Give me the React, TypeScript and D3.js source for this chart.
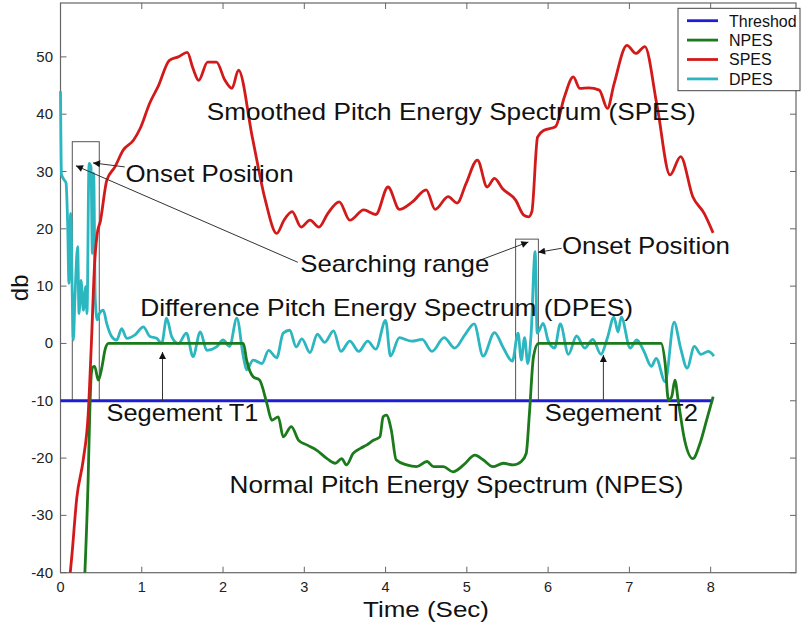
import * as d3 from "d3";
import React from "react";

// time (s) / level (db) pairs
const threshold: [number, number][] = [[0, -10], [8.03, -10]];

const npes: [number, number][] = [
  [0.3, -40], [0.34, -23.8], [0.36, -12.2], [0.38, -5.2], [0.4, -4.1], [0.42, -4.0], [0.465, -6.4],
  [0.51, -4.1], [0.55, -1], [0.59, 0], [2.25, 0], [2.29, -2.9], [2.37, -5.8], [2.45, -6.4], [2.54, -10.5],
  [2.6, -13.4], [2.68, -12.8], [2.74, -16.3], [2.84, -14.5], [2.93, -16.9], [3.03, -17.7], [3.15, -18.6],
  [3.28, -20.1], [3.38, -20.9], [3.46, -20.1], [3.52, -21.2], [3.6, -19.2], [3.69, -18.3], [3.77, -17.7],
  [3.85, -16.9], [3.93, -16.3], [3.97, -12.8], [4.01, -12.5], [4.07, -15.1], [4.13, -20.3], [4.26, -21.2],
  [4.38, -21.5], [4.51, -20.6], [4.59, -21.5], [4.71, -21.5], [4.83, -22.4], [4.96, -21.2], [5.1, -19.5],
  [5.2, -20.3], [5.32, -21.5], [5.45, -20.9], [5.57, -21.2], [5.67, -20.6], [5.73, -19.2], [5.77, -12.2],
  [5.82, -2.3], [5.88, 0], [7.39, 0], [7.44, -3.5], [7.48, -9.9], [7.52, -9.3], [7.56, -6.4], [7.6, -9.9],
  [7.68, -16.9], [7.78, -20.1], [7.87, -17.4], [7.95, -13.4], [8.03, -9.3],
];

const spes: [number, number][] = [
  [0.12, -40], [0.14, -37], [0.2, -27], [0.28, -20.3], [0.34, -12.5], [0.38, 0], [0.42, 14], [0.45, 19],
  [0.49, 21.3], [0.57, 28.5], [0.67, 30.8], [0.77, 33.7], [0.9, 35.5], [0.98, 37.5], [1.1, 42], [1.2, 44.8],
  [1.34, 49.4], [1.45, 50.0], [1.56, 50.8], [1.63, 48], [1.7, 45.9], [1.81, 49.1], [1.92, 49.1], [2.02, 46],
  [2.11, 44.5], [2.19, 47.7], [2.36, 36.0], [2.52, 25.0], [2.66, 19.2], [2.75, 21.5], [2.85, 23.0],
  [2.96, 20.3], [3.07, 21.5], [3.18, 20.3], [3.29, 22.7], [3.43, 24.7], [3.56, 21.5], [3.73, 23.3],
  [3.88, 22.5], [4.03, 27.3], [4.17, 23.4], [4.33, 24.7], [4.5, 26.8], [4.61, 23.4], [4.77, 25.6],
  [4.88, 24.5], [4.99, 27.9], [5.13, 32.0], [5.25, 27.3], [5.34, 28.8], [5.44, 27.0], [5.6, 25.0],
  [5.7, 22.4], [5.76, 22.1], [5.8, 23], [5.87, 36.0], [5.95, 37.2], [6.09, 37.8], [6.2, 43.0], [6.31, 46.5],
  [6.39, 44.5], [6.5, 44.6], [6.63, 44.2], [6.73, 41.0], [6.81, 45.2], [6.97, 52.0], [7.08, 50.6],
  [7.19, 51.8], [7.34, 41.5], [7.5, 29.4], [7.63, 32.6], [7.78, 25.6], [7.92, 22.7], [8.03, 19.3],
];

const dpes: [number, number][] = [
  [0, 44], [0.012, 29.5], [0.047, 28.5], [0.068, 28], [0.088, 20.9], [0.104, 10.5], [0.125, 22.7],
  [0.158, 0.6], [0.178, 8.1], [0.211, 16.9], [0.228, 5.2], [0.252, 11.0], [0.281, 5.8], [0.31, 9.9],
  [0.326, 5.2], [0.351, 31.4], [0.375, 30.8], [0.392, 15.7], [0.408, 29.7], [0.428, 7.6], [0.453, 4.1],
  [0.478, 5.2], [0.527, 5.8], [0.568, 3.5], [0.63, 1.2], [0.691, 0.6], [0.753, 2.6], [0.814, 0.9],
  [0.917, 1.5], [1.019, 2.9], [1.101, 1.2], [1.183, 0.9], [1.245, 0], [1.306, 4.4], [1.368, 1.2],
  [1.45, 0], [1.55, 1.8], [1.63, -2.3], [1.72, 2.0], [1.8, -1.2], [1.92, -0.6], [2.0, 0.6], [2.08, -0.5],
  [2.17, 4.4], [2.25, -2.3], [2.29, -4.6], [2.37, -2.9], [2.48, -3.5], [2.56, -1.2], [2.66, -2.5],
  [2.74, 1.8], [2.82, 2.3], [2.9, -0.6], [2.97, 0.8], [3.07, -1.6], [3.16, 1.6], [3.25, 0.2], [3.36, 2.2],
  [3.45, -1.4], [3.56, 0.4], [3.67, -1.4], [3.78, 0.4], [3.88, -1.0], [4.0, 4.0], [4.06, -2.2],
  [4.17, 1.0], [4.32, 0.4], [4.45, 0.7], [4.57, -1.4], [4.72, 1.0], [4.85, -0.8], [4.98, 1.6],
  [5.09, 3.4], [5.2, -2.2], [5.34, 1.9], [5.45, -0.8], [5.56, -3.1], [5.63, 1.8], [5.67, -2.9],
  [5.71, 1.0], [5.75, -3.5], [5.79, 1.5], [5.84, 16], [5.865, 1.8], [5.94, 3.5], [6.0, 0.5], [6.08, -0.8],
  [6.15, 3.4], [6.25, -1.9], [6.35, 1.3], [6.45, -0.8], [6.55, 0.7], [6.65, -1.9], [6.73, 1.0], [6.81, 4.6],
  [6.86, 2.0], [6.9, 4.6], [7.01, -0.8], [7.09, 0.6], [7.18, -1.4], [7.27, -4.0], [7.33, -2.6],
  [7.44, -6.7], [7.55, 3.7], [7.63, -0.8], [7.71, -4.3], [7.8, -0.5], [7.88, -1.9], [7.97, -1.4], [8.04, -2.2],
];

const seriesNames = ["Threshod", "NPES", "SPES", "DPES"];
const seriesColors = ["#1e1ed6", "#1b7a1b", "#d21a1a", "#2bb6c0"];
const xTicks = [0, 1, 2, 3, 4, 5, 6, 7, 8];
const yTicks = [-40, -30, -20, -10, 0, 10, 20, 30, 40, 50];

// annotations in data coords
const labels = [
  { text: "Smoothed Pitch Energy Spectrum (SPES)", t: 1.8, db: 38.9, w: 489 },
  { text: "Onset Position", t: 0.8, db: 28.2, w: 168 },
  { text: "Onset Position", t: 6.17, db: 15.6, w: 168 },
  { text: "Searching range", t: 2.95, db: 12.45, w: 189 },
  { text: "Difference Pitch Energy Spectrum (DPES)", t: 0.98, db: 4.83, w: 493 },
  { text: "Segement T1", t: 0.566, db: -13.6, w: 152 },
  { text: "Segement T2", t: 5.96, db: -13.5, w: 153 },
  { text: "Normal Pitch Energy Spectrum (NPES)", t: 2.08, db: -26.1, w: 454 },
];
const searchBoxes = [
  { t0: 0.145, t1: 0.477, top: 35.2 },
  { t0: 5.6, t1: 5.88, top: 18.2 },
];
const arrows: [number, number, number, number][] = [
  [2.92, 14.16, 0.19, 31.0],
  [5.12, 14.3, 5.757, 17.7],
  [0.79, 30.8, 0.4, 31.5],
  [6.165, 16.6, 5.877, 15.9],
  [1.255, -10, 1.255, -1.5],
  [6.68, -10, 6.68, -2.0],
];

const W = 806;
const H = 626;
const font = "'Liberation Sans', Arial, sans-serif";

export default function App() {
  const x = d3.scaleLinear().domain([0, 9.05]).range([60.5, 796]);
  const y = d3.scaleLinear().domain([-40, 59.4]).range([572.7, 3]);
  const line = d3
    .line<[number, number]>()
    .x((d) => x(d[0]))
    .y((d) => y(d[1]))
    .curve(d3.curveMonotoneX);

  const series = [threshold, npes, spes, dpes];
  const drawOrder = [0, 3, 1, 2];
  const [x0, x1] = x.range();
  const [yb, yt] = y.range();

  return (
    <svg
      width={W}
      height={H}
      style={{ position: "absolute", left: 0, top: 0, background: "#fff" }}
      fontFamily={font}
    >
      <defs>
        <marker id="head" viewBox="0 0 10 10" refX="10" refY="5" markerWidth="9" markerHeight="7"
          markerUnits="userSpaceOnUse" orient="auto">
          <path d="M0,0 L10,5 L0,10 z" fill="#111" />
        </marker>
      </defs>

      {/* frame */}
      <rect x={x0} y={yt} width={x1 - x0} height={yb - yt} fill="none" stroke="#666" strokeWidth={1.2} />
      {xTicks.map((t) => (
        <g key={"xt" + t}>
          <line x1={x(t)} x2={x(t)} y1={yb} y2={yb - 6} stroke="#666" />
          <line x1={x(t)} x2={x(t)} y1={yt} y2={yt + 6} stroke="#666" />
          <text x={x(t)} y={592} fontSize={14.5} textAnchor="middle" fill="#222">{t}</text>
        </g>
      ))}
      {yTicks.map((v) => (
        <g key={"yt" + v}>
          <line x1={x0} x2={x0 + 6} y1={y(v)} y2={y(v)} stroke="#666" />
          <line x1={x1} x2={x1 - 6} y1={y(v)} y2={y(v)} stroke="#666" />
          <text x={53} y={y(v) + 5} fontSize={15} textAnchor="end" fill="#222">{v}</text>
        </g>
      ))}
      <text x={426} y={617} fontSize={22} textAnchor="middle" textLength={126} lengthAdjust="spacingAndGlyphs" fill="#111">
        Time (Sec)
      </text>
      <text transform={`translate(28,${(yb + yt) / 2}) rotate(-90)`} fontSize={24} textAnchor="middle" fill="#111">
        db
      </text>

      {/* search boxes */}
      {searchBoxes.map((b, i) => (
        <rect key={"sb" + i} x={x(b.t0)} y={y(b.top)} width={x(b.t1) - x(b.t0)} height={y(-10) - y(b.top)}
          fill="none" stroke="#555" strokeWidth={1} />
      ))}

      {/* data lines */}
      {drawOrder.map((i) => (
        <path key={seriesNames[i]} d={line(series[i]) || ""} fill="none" stroke={seriesColors[i]}
          strokeWidth={2.8} strokeLinejoin="round" />
      ))}

      {/* arrows */}
      {arrows.map((a, i) => (
        <line key={"ar" + i} x1={x(a[0])} y1={y(a[1])} x2={x(a[2])} y2={y(a[3])} stroke="#333"
          strokeWidth={1} markerEnd="url(#head)" />
      ))}

      {/* text labels */}
      {labels.map((l, i) => (
        <text key={"lb" + i} x={x(l.t)} y={y(l.db)} fontSize={24} textLength={l.w}
          lengthAdjust="spacingAndGlyphs" fill="#111">
          {l.text}
        </text>
      ))}

      {/* legend */}
      <rect x={678} y={8.3} width={122} height={82.4} fill="#fff" stroke="#444" strokeWidth={1} />
      {seriesNames.map((n, i) => (
        <g key={"lg" + n}>
          <line x1={687} x2={718} y1={20.7 + i * 19.4} y2={20.7 + i * 19.4} stroke={seriesColors[i]} strokeWidth={2.8} />
          <text x={729} y={26.5 + i * 19.4} fontSize={16} fill="#111">{n}</text>
        </g>
      ))}
    </svg>
  );
}
